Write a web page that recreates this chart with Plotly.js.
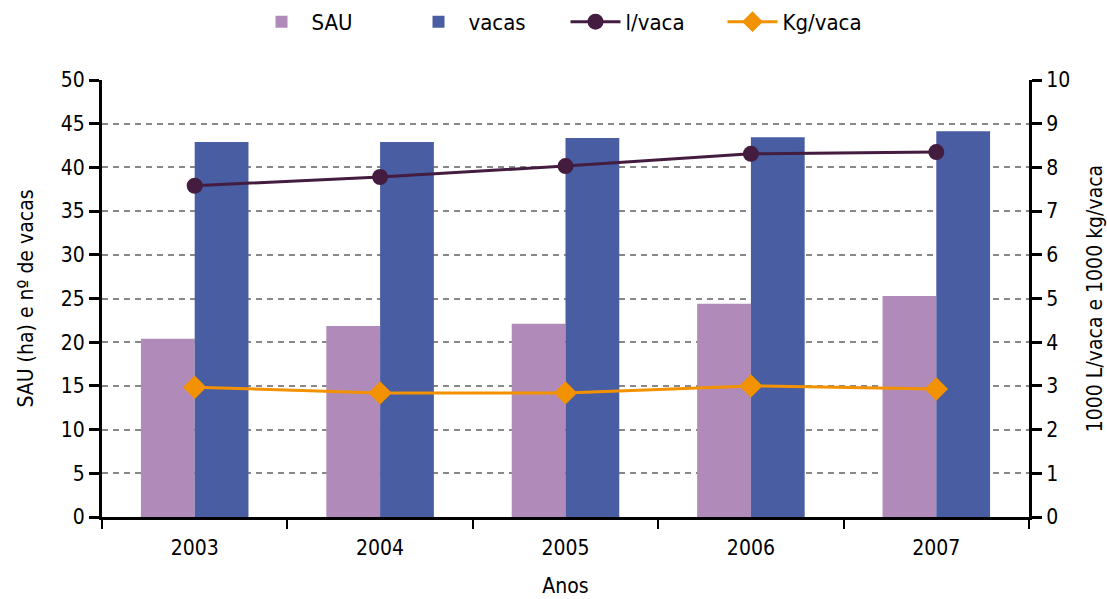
<!DOCTYPE html>
<html>
<head>
<meta charset="utf-8">
<script src="https://cdn.plot.ly/plotly-3.0.1.min.js"></script>
<style>html,body{margin:0;padding:0;background:#fff}#chart{width:1107px;height:599px}</style>
</head>
<body>
<div id="chart"></div>
<script>
const years = ["2003", "2004", "2005", "2006", "2007"];
const sau = [20.4, 21.85, 22.1, 24.4, 25.3];
const vacas = [42.9, 42.9, 43.35, 43.45, 44.15];
const lVaca = [7.58, 7.78, 8.03, 8.31, 8.35];
const kgVaca = [2.97, 2.84, 2.84, 3.0, 2.93];
const leftTicks = [0, 5, 10, 15, 20, 25, 30, 35, 40, 45, 50];
const rightTicks = [0, 1, 2, 3, 4, 5, 6, 7, 8, 9, 10];

const FONT = "'DejaVu Sans Condensed', 'Liberation Sans Narrow', sans-serif";

const traces = [
  {type: "bar", name: "SAU", x: years, y: sau, marker: {color: "#b08bb9"}},
  {type: "bar", name: "vacas", x: years, y: vacas, marker: {color: "#485da2"}},
  {type: "scatter", mode: "lines+markers", name: "l/vaca", x: years, y: lVaca, yaxis: "y2",
   line: {color: "#431c40", width: 3}, marker: {symbol: "circle", size: 16, color: "#431c40"}},
  {type: "scatter", mode: "lines+markers", name: "Kg/vaca", x: years, y: kgVaca, yaxis: "y2",
   line: {color: "#f39200", width: 3}, marker: {symbol: "diamond", size: 18, color: "#f39200"}}
];

const layout = {
  width: 1107, height: 599,
  margin: {l: 102, r: 78, t: 80, b: 82, autoexpand: false},
  paper_bgcolor: "#fff", plot_bgcolor: "#fff",
  font: {family: FONT, size: 21, color: "#000"},
  barmode: "group", bargap: 0.42, bargroupgap: 0,
  showlegend: true,
  legend: {orientation: "h", x: 0.5, xanchor: "center", y: 1.133, yanchor: "middle",
           font: {family: FONT, size: 22, color: "#000"}, itemwidth: 50, entrywidth: 92, entrywidthmode: "pixels",
           traceorder: "normal"},
  xaxis: {type: "category", tickson: "boundaries", ticks: "outside", ticklen: 9, tickwidth: 2, tickcolor: "#000",
          showline: true, linecolor: "#000", linewidth: 3, showgrid: false, ticklabelstandoff: 10,
          tickfont: {family: FONT, size: 21}, title: {text: "Anos", font: {family: FONT, size: 21}, standoff: 20}},
  yaxis: {range: [0, 50], tickvals: leftTicks, ticktext: leftTicks.map(String), ticks: "outside", ticklen: 10, tickwidth: 3, tickcolor: "#000",
          showline: true, linecolor: "#000", linewidth: 3, zeroline: false,
          showgrid: true, gridcolor: "#888", gridwidth: 2, griddash: "6px,5px",
          tickfont: {family: FONT, size: 21}, title: {text: "SAU (ha) e nº de vacas", font: {family: FONT, size: 21}, standoff: 22}},
  yaxis2: {range: [0, 10], tickvals: rightTicks, ticktext: rightTicks.map(String), overlaying: "y", side: "right",
           ticks: "outside", ticklen: 10, tickwidth: 3, tickcolor: "#000",
           showline: true, linecolor: "#000", linewidth: 3, zeroline: false, showgrid: false,
           tickfont: {family: FONT, size: 21}, title: {text: "1000 L/vaca e 1000 kg/vaca", font: {family: FONT, size: 21}, standoff: 24}}
};

Plotly.newPlot("chart", traces, layout, {displayModeBar: false, staticPlot: true});
</script>
</body>
</html>
